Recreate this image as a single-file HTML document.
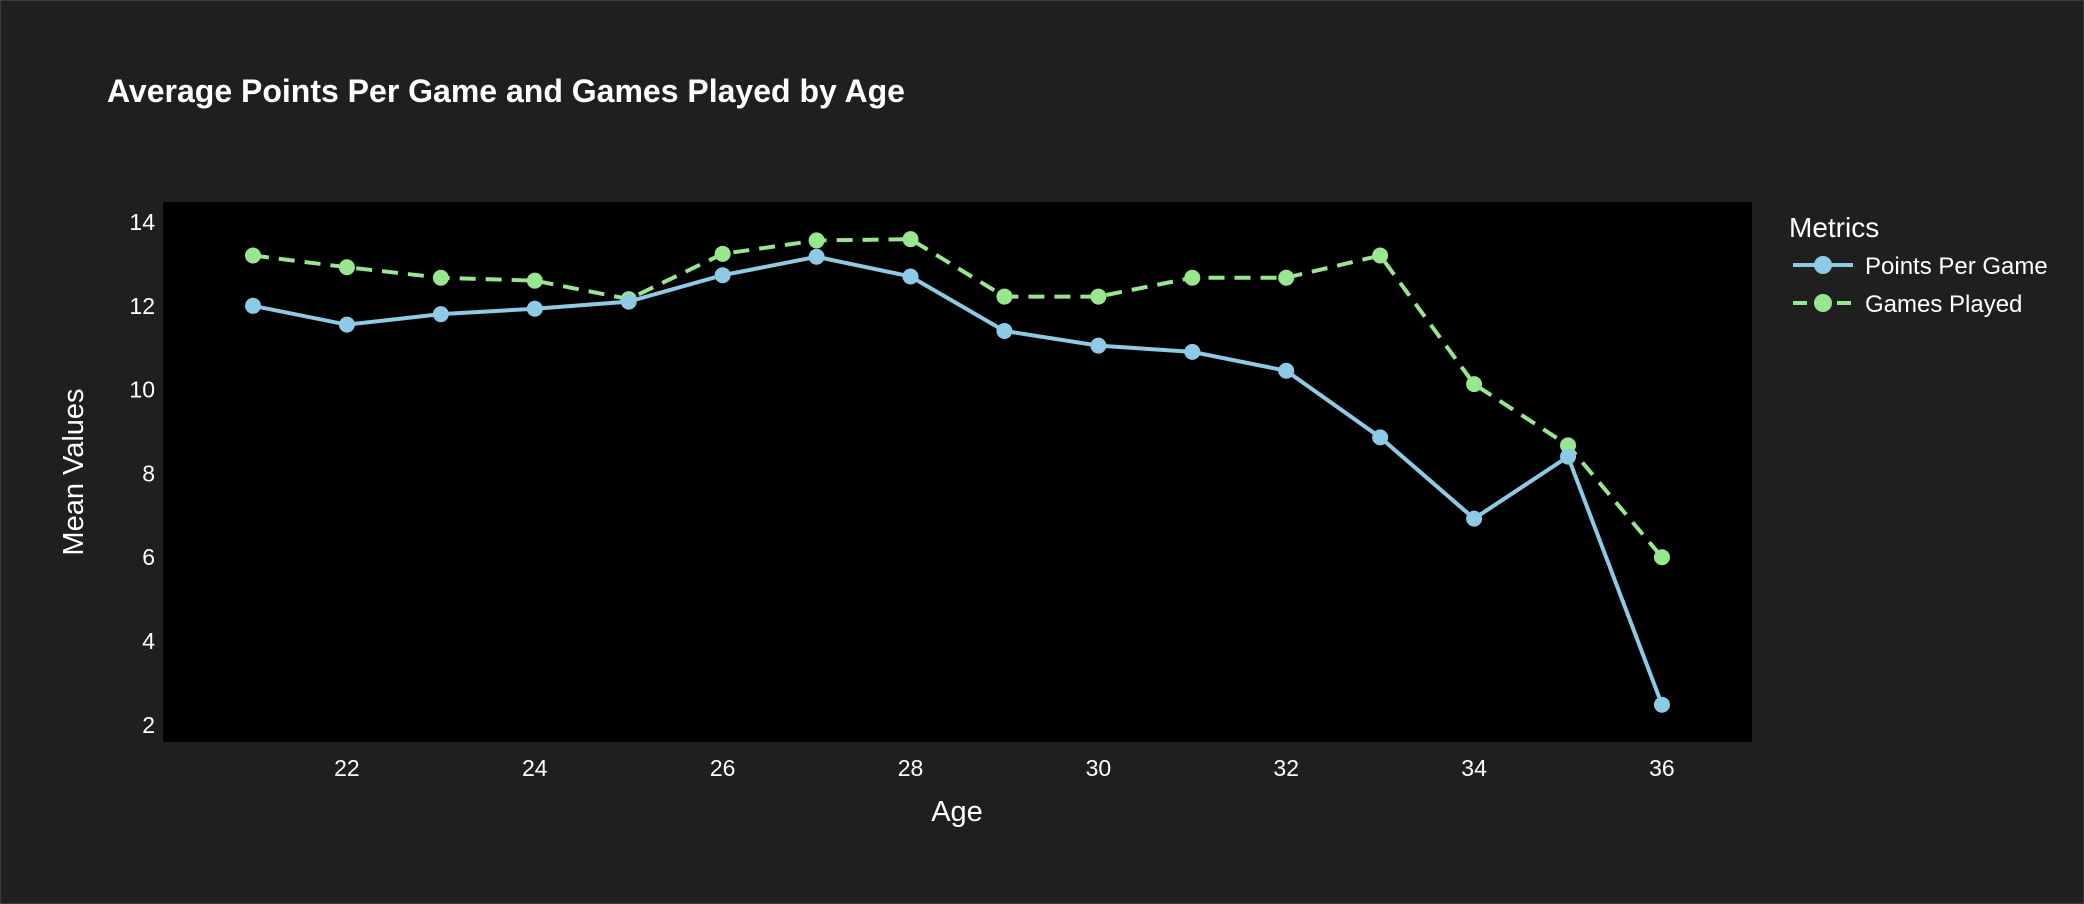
<!DOCTYPE html>
<html><head><meta charset="utf-8"><style>
html,body{margin:0;padding:0;background:#1f1f1f;}
svg{display:block;font-family:"Liberation Sans",sans-serif;}
</style></head><body>
<svg id="chart" width="2084" height="904" viewBox="0 0 2084 904">
<rect x="0.5" y="0.5" width="2083" height="903" fill="#1f1f1f" stroke="#3a3a3a"/>
<text x="107" y="102" fill="#fff" font-size="32" font-weight="bold">Average Points Per Game and Games Played by Age</text>
<rect x="163" y="202" width="1589" height="540" fill="#000"/>
<g id="yticks"></g>
<g id="xticks"></g>
<text x="957" y="821" fill="#fff" font-size="29" text-anchor="middle">Age</text>
<text transform="translate(83,472) rotate(-90)" fill="#fff" font-size="29" text-anchor="middle">Mean Values</text>
<g id="series"></g>
<g>
<text x="1789" y="237" fill="#fff" font-size="28">Metrics</text>
<g>
<line x1="1793" y1="265" x2="1853" y2="265" stroke="#8ecae6" stroke-width="4"/>
<circle cx="1823" cy="265" r="9" fill="#8ecae6"/>
<text x="1865" y="274" fill="#fff" font-size="24">Points Per Game</text></g>
<g>
<line x1="1793" y1="303" x2="1853" y2="303" stroke="#98e690" stroke-width="4" stroke-dasharray="14,8"/>
<circle cx="1823" cy="303" r="9" fill="#98e690"/>
<text x="1865" y="312" fill="#fff" font-size="24">Games Played</text></g>
</g>
</svg>
<script>
const ages=[21,22,23,24,25,26,27,28,29,30,31,32,33,34,35,36];
const pointsPerGame=[12.0,11.55,11.8,11.93,12.1,12.73,13.17,12.7,11.4,11.05,10.9,10.45,8.86,6.92,8.4,2.48];
const gamesPlayed=[13.2,12.92,12.67,12.6,12.16,13.24,13.56,13.59,12.22,12.22,12.67,12.67,13.2,10.13,8.67,6.0];
const yTicks=[2,4,6,8,10,12,14];
const xTicks=[22,24,26,28,30,32,34,36];
const NS="http://www.w3.org/2000/svg";
const xs=a=>253+(a-21)*93.93;
const ys=v=>222+(14-v)*41.9;
const yg=document.getElementById('yticks');
yTicks.forEach(t=>{const e=document.createElementNS(NS,'text');
e.setAttribute('x',155);e.setAttribute('y',ys(t)+8);e.setAttribute('fill','#fff');
e.setAttribute('font-size','23');e.setAttribute('text-anchor','end');e.textContent=t;


yg.appendChild(e);});
const xg=document.getElementById('xticks');
xTicks.forEach(t=>{const e=document.createElementNS(NS,'text');
e.setAttribute('x',xs(t));e.setAttribute('y',776);e.setAttribute('fill','#fff');
e.setAttribute('font-size','23');e.setAttribute('text-anchor','middle');e.textContent=t;


xg.appendChild(e);});
const sg=document.getElementById('series');
function draw(vals,color,dash,name){
 const p=document.createElementNS(NS,'polyline');
 p.setAttribute('points',vals.map((v,i)=>xs(ages[i])+','+ys(v)).join(' '));
 p.setAttribute('fill','none');p.setAttribute('stroke',color);p.setAttribute('stroke-width','4');
 if(dash)p.setAttribute('stroke-dasharray','16,10');
 
 
 sg.appendChild(p);
 vals.forEach((v,i)=>{const c=document.createElementNS(NS,'circle');
 c.setAttribute('cx',xs(ages[i]));c.setAttribute('cy',ys(v));c.setAttribute('r','8');c.setAttribute('fill',color);
 
 
 sg.appendChild(c);});
}
draw(gamesPlayed,'#98e690',true,'games-played');
draw(pointsPerGame,'#8ecae6',false,'points-per-game');
</script>
</body></html>
